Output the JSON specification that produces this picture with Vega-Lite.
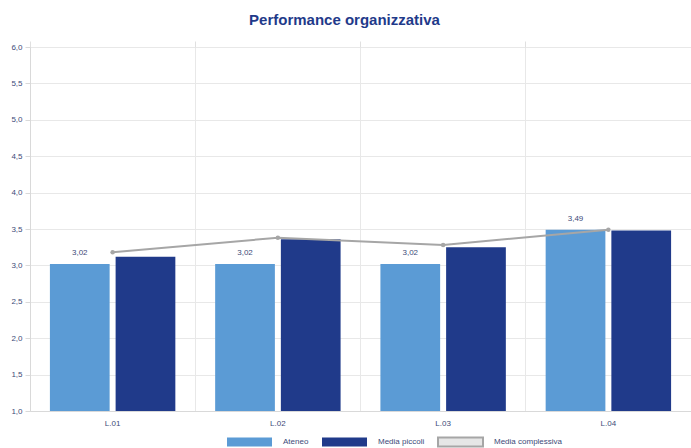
{
  "$schema": "https://vega.github.io/schema/vega-lite/v6.json",
  "width": 661,
  "height": 364,
  "autosize": "none",
  "padding": {"left": 30, "top": 47, "right": 0, "bottom": 37},
  "config": {
    "locale": {"number": {"decimal": ",", "thousands": ".", "grouping": [3], "currency": ["", " €"]}},
    "view": {"stroke": null},
    "font": "Liberation Sans"
  },
  "title": {
    "text": "Performance organizzativa",
    "fontSize": 15,
    "font": "Liberation Sans",
    "fontWeight": "bold",
    "color": "#1f3a8a",
    "anchor": "middle",
    "dx": -16,
    "offset": 13
  },
  "datasets": {
    "bars": [
      {"cat": "L.01", "serie": "Ateneo", "value": 3.02},
      {"cat": "L.01", "serie": "Media piccoli", "value": 3.12},
      {"cat": "L.02", "serie": "Ateneo", "value": 3.02},
      {"cat": "L.02", "serie": "Media piccoli", "value": 3.36},
      {"cat": "L.03", "serie": "Ateneo", "value": 3.02},
      {"cat": "L.03", "serie": "Media piccoli", "value": 3.25},
      {"cat": "L.04", "serie": "Ateneo", "value": 3.49},
      {"cat": "L.04", "serie": "Media piccoli", "value": 3.48}
    ],
    "line": [
      {"cat": "L.01", "serie": "Media complessiva", "value": 3.18},
      {"cat": "L.02", "serie": "Media complessiva", "value": 3.38},
      {"cat": "L.03", "serie": "Media complessiva", "value": 3.28},
      {"cat": "L.04", "serie": "Media complessiva", "value": 3.49}
    ]
  },
  "encoding": {
    "y": {
      "field": "value", "type": "quantitative",
      "scale": {"domain": [1, 6], "nice": false, "zero": false},
      "axis": {"values": [1, 1.5, 2, 2.5, 3, 3.5, 4, 4.5, 5, 5.5, 6], "labelOverlap": false, "format": ".1f", "grid": true, "gridColor": "#e8e8e8", "domainColor": "#d9d9d9", "ticks": true, "tickSize": 5, "tickColor": "#d9d9d9", "labelPadding": 3, "labelFontSize": 8, "labelColor": "#3c4a78", "title": null}
    }
  },
  "layer": [
    {
      "data": {"name": "bars"},
      "mark": {"type": "bar"},
      "encoding": {
        "x": {
          "field": "cat", "type": "nominal",
          "scale": {"paddingInner": 0, "paddingOuter": 0},
          "axis": {"grid": false, "ticks": false, "domain": true, "domainColor": "#d9d9d9", "labelAngle": 0, "labelFontSize": 8, "labelColor": "#3c4a78", "labelPadding": 8, "title": null}
        },
        "xOffset": {
          "field": "serie", "type": "nominal",
          "scale": {"domain": ["Ateneo", "Media piccoli"], "paddingInner": 0.091, "paddingOuter": 0.303}
        },
        "y2": {"datum": 1},
        "color": {
          "field": "serie", "type": "nominal",
          "scale": {"domain": ["Ateneo", "Media piccoli", "Media complessiva"], "range": ["#5b9bd5", "#203a8a", "#e6e6e6"]},
          "legend": {
            "title": null,
            "orient": "none",
            "legendX": 214,
            "legendY": 389.5,
            "direction": "horizontal",
            "symbolType": "M-5,-1H5V1H-5Z",
            "symbolSize": 81,
            "labelOffset": 28,
            "columnPadding": 9,
            "labelFontSize": 8,
            "labelColor": "#3c4a78",
            "encode": {
              "symbols": {
                "update": {
                  "stroke": {"signal": "datum.value === 'Media complessiva' ? '#a6a6a6' : 'transparent'"},
                  "strokeWidth": {"value": 2}
                }
              }
            }
          }
        }
      }
    },
    {
      "data": {"name": "line"},
      "mark": {"type": "line", "color": "#a6a6a6", "strokeWidth": 2, "point": {"filled": true, "size": 20, "color": "#a6a6a6"}},
      "encoding": {
        "x": {
          "field": "cat", "type": "nominal",
          "axis": {"bandPosition": 0, "grid": true, "gridColor": "#e8e8e8", "labels": false, "ticks": true, "tickSize": 6, "tickColor": "#e0e0e0", "domain": false, "title": null}
        }
      }
    },
    {
      "data": {"name": "bars"},
      "transform": [{"filter": "datum.serie === 'Ateneo'"}],
      "mark": {"type": "text", "baseline": "bottom", "dy": -7, "fontSize": 8, "color": "#3c4a78"},
      "encoding": {
        "x": {"field": "cat", "type": "nominal", "axis": null},
        "xOffset": {"field": "serie", "type": "nominal"},
        "text": {"field": "value", "type": "quantitative", "format": ".2f"}
      }
    }
  ],
  "resolve": {"axis": {"x": "independent"}}
}
